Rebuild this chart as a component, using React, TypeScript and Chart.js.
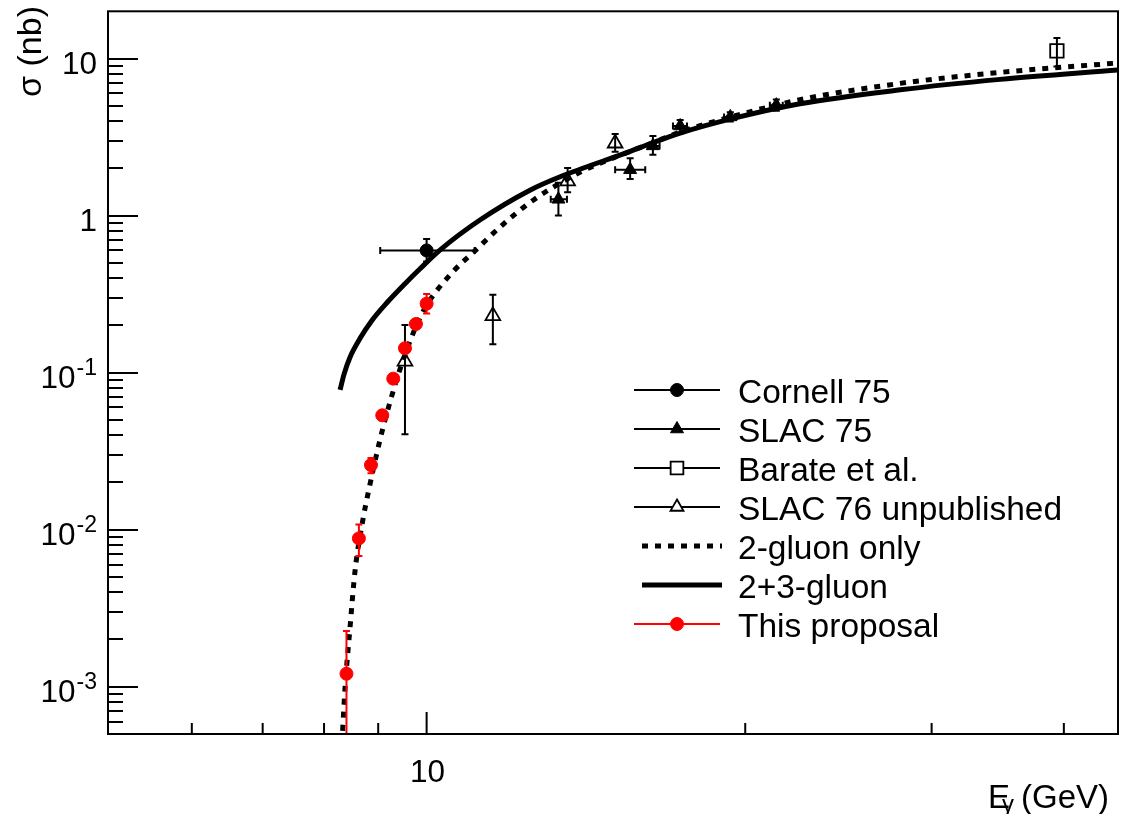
import React, { useEffect, useRef } from "react";
import { Chart, registerables } from "chart.js";

Chart.register(...registerables);

// ---------------- data ----------------
const xMin = 5;
const xMax = 45;
const yMin = 5e-4;
const yMax = 20;

const cornellE = [10.0];
const cornellSigma = [0.6];
const cornellELow = [9.04];
const cornellEHigh = [11.1];
const cornellSigmaLow = [0.51];
const cornellSigmaHigh = [0.71];

const slac75E = [13.32, 15.57, 16.36, 17.36, 19.36, 21.4];
const slac75Sigma = [1.27, 1.96, 2.78, 3.72, 4.25, 5.05];
const slac75ELow = [13.1, 15.07, 16.17, 17.09, 19.1, 21.1];
const slac75EHigh = [13.57, 16.09, 16.6, 17.62, 19.62, 21.7];
const slac75SigmaLow = [1.0, 1.71, 2.44, 3.34, 3.98, 4.65];
const slac75SigmaHigh = [1.62, 2.32, 3.21, 4.06, 4.55, 5.48];

const barateE = [39.4];
const barateSigma = [11.2];
const barateSigmaLow = [8.9];
const barateSigmaHigh = [13.5];

const slac76E = [9.54, 11.55, 13.59, 15.07];
const slac76Sigma = [0.118, 0.23, 1.66, 2.89];
const slac76SigmaLow = [0.0406, 0.1515, 1.41, 2.55];
const slac76SigmaHigh = [0.201, 0.313, 2.01, 3.31];

const proposalE = [8.4, 8.63, 8.86, 9.08, 9.3, 9.54, 9.77, 10.0];
const proposalSigma = [0.00121, 0.0088, 0.0258, 0.0535, 0.0916, 0.143, 0.204, 0.275];
const proposalSigmaLow = [0.0001, 0.0068, 0.0229, 0.0505, 0.0865, 0.135, 0.193, 0.238];
const proposalSigmaHigh = [0.00226, 0.0108, 0.0286, 0.0567, 0.097, 0.151, 0.215, 0.317];

const twoGluonE = [8.293, 8.374, 8.465, 8.558, 8.707, 8.804, 9.036, 9.235, 9.438, 9.772, 10.01, 10.59, 11.07, 11.79, 12.61, 13.96, 15.57, 16.33, 17.36, 19.35, 22.53, 28.02, 34.83, 45];
const twoGluonSigma = [0.000296, 0.000979, 0.002381, 0.005466, 0.01166, 0.01703, 0.03743, 0.06512, 0.1053, 0.1971, 0.2716, 0.4393, 0.5836, 0.8712, 1.254, 1.887, 2.563, 2.9, 3.404, 4.236, 5.468, 6.952, 8.162, 9.374];

const twoThreeGluonE = [8.284, 8.356, 8.465, 8.652, 8.878, 9.175, 9.541, 9.858, 10.3, 11.23, 12.52, 13.37, 15.57, 16.33, 17.36, 19.35, 22.53, 28.02, 34.83, 45];
const twoThreeGluonSigma = [0.0776, 0.0979, 0.1255, 0.1655, 0.2151, 0.2797, 0.3687, 0.4589, 0.6053, 0.9374, 1.451, 1.767, 2.563, 2.9, 3.356, 4.116, 5.157, 6.324, 7.371, 8.465];

const yTickValues = [1e-3, 1e-2, 1e-1, 1, 10];
const yTickBase = ["10", "10", "10", "1", "10"];
const yTickExp = ["-3", "-2", "-1", "", ""];
const xTickValues = [10];
const xTickLabels = ["10"];
const xMinorTicks = [6, 7, 8, 9, 20, 30, 40];

const legendLabels = [
  "Cornell 75",
  "SLAC 75",
  "Barate et al.",
  "SLAC 76 unpublished",
  "2-gluon only",
  "2+3-gluon",
  "This proposal",
];

const FONT = '"Liberation Sans", Arial, Helvetica, sans-serif';

// ---------------- helpers ----------------
function pts(xs: number[], ys: number[]) {
  return xs.map((x, i) => ({ x, y: ys[i] }));
}
function errs(yl: number[], yh: number[], xl?: number[], xh?: number[]) {
  return yl.map((_, i) => ({
    yl: yl[i],
    yh: yh[i],
    xl: xl ? xl[i] : null,
    xh: xh ? xh[i] : null,
  }));
}

function drawMarker(
  ctx: CanvasRenderingContext2D,
  style: string,
  x: number,
  y: number,
  r: number,
  fill: string | null,
  stroke: string,
  lw: number
) {
  ctx.beginPath();
  if (style === "circle") {
    ctx.arc(x, y, r, 0, Math.PI * 2);
  } else if (style === "triangle") {
    ctx.moveTo(x, y - r);
    ctx.lineTo(x + r * 0.866, y + r / 2);
    ctx.lineTo(x - r * 0.866, y + r / 2);
    ctx.closePath();
  } else if (style === "rect") {
    const s = r * Math.SQRT1_2;
    ctx.rect(x - s, y - s, 2 * s, 2 * s);
  }
  if (fill) {
    ctx.fillStyle = fill;
    ctx.fill();
  }
  ctx.lineWidth = lw;
  ctx.strokeStyle = stroke;
  ctx.stroke();
}

function seg(ctx: CanvasRenderingContext2D, x1: number, y1: number, x2: number, y2: number) {
  ctx.beginPath();
  ctx.moveTo(x1, y1);
  ctx.lineTo(x2, y2);
  ctx.stroke();
}

// ---------------- plugins ----------------
const errorBarPlugin = {
  id: "errorBars",
  afterDatasetDraw(chart: any, args: any) {
    const ds: any = chart.data.datasets[args.index];
    if (!ds.errorBars) return;
    const { ctx, chartArea: a } = chart;
    const xs = chart.scales.x;
    const ys = chart.scales.y;
    ctx.save();
    ctx.beginPath();
    ctx.rect(a.left, a.top, a.right - a.left, a.bottom - a.top);
    ctx.clip();
    ctx.strokeStyle = ds.errorColor;
    ctx.lineWidth = 2;
    const cap = 3.5;
    ds.errorBars.forEach((e: any, i: number) => {
      const p = ds.data[i];
      const px = xs.getPixelForValue(p.x);
      const py = ys.getPixelForValue(p.y);
      if (e.yl != null) {
        const y1 = ys.getPixelForValue(e.yl);
        const y2 = ys.getPixelForValue(e.yh);
        seg(ctx, px, y1, px, y2);
        seg(ctx, px - cap, y1, px + cap, y1);
        seg(ctx, px - cap, y2, px + cap, y2);
      }
      if (e.xl != null) {
        const x1 = xs.getPixelForValue(e.xl);
        const x2 = xs.getPixelForValue(e.xh);
        seg(ctx, x1, py, x2, py);
        seg(ctx, x1, py - cap, x1, py + cap);
        seg(ctx, x2, py - cap, x2, py + cap);
      }
    });
    ctx.restore();
  },
};

const axesPlugin = {
  id: "rootAxes",
  afterDatasetsDraw(chart: any) {
    const { ctx, chartArea: a } = chart;
    const xs = chart.scales.x;
    const ys = chart.scales.y;
    ctx.save();
    ctx.strokeStyle = "#000";
    ctx.lineWidth = 2;
    ctx.strokeRect(a.left, a.top, a.right - a.left, a.bottom - a.top);

    // y ticks
    for (let k = -4; k <= 1; k++) {
      for (let m = 1; m <= 9; m++) {
        const v = m * Math.pow(10, k);
        if (v <= yMin * 1.0001 || v >= yMax * 0.9999) continue;
        const py = Math.round(ys.getPixelForValue(v));
        const len = m === 1 ? 30 : 15;
        seg(ctx, a.left, py, a.left + len, py);
      }
    }
    // x ticks
    xMinorTicks.forEach((v) => {
      const px = xs.getPixelForValue(v);
      seg(ctx, px, a.bottom, px, a.bottom - 11);
    });
    xTickValues.forEach((v) => {
      const px = xs.getPixelForValue(v);
      seg(ctx, px, a.bottom, px, a.bottom - 22);
    });

    // y tick labels
    ctx.fillStyle = "#000";
    ctx.textBaseline = "alphabetic";
    const baseFont = `31.5px ${FONT}`;
    const supFont = `23px ${FONT}`;
    yTickValues.forEach((v, i) => {
      const py = ys.getPixelForValue(v);
      const right = 97;
      const base = yTickBase[i];
      const exp = yTickExp[i];
      ctx.font = supFont;
      const we = exp ? ctx.measureText(exp).width : 0;
      ctx.font = baseFont;
      const wb = ctx.measureText(base).width;
      ctx.textAlign = "left";
      const bx = right - we - (exp ? 1 : 0) - wb;
      ctx.fillText(base, bx, py + 15);
      if (exp) {
        ctx.font = supFont;
        ctx.fillText(exp, right - we, py + 2);
      }
    });

    // x tick labels
    ctx.font = baseFont;
    ctx.textAlign = "center";
    xTickValues.forEach((v, i) => {
      const px = xs.getPixelForValue(v);
      ctx.fillText(xTickLabels[i], px + 1, 782);
    });

    // x title: E_gamma (GeV)
    ctx.textAlign = "left";
    ctx.font = `33px ${FONT}`;
    ctx.fillText("E", 988, 808);
    ctx.font = `24px ${FONT}`;
    ctx.fillText("\u03b3", 1002, 812);
    ctx.font = `33px ${FONT}`;
    ctx.fillText("(GeV)", 1021, 808);

    // y title
    ctx.save();
    ctx.translate(41, 6);
    ctx.rotate(-Math.PI / 2);
    ctx.font = `34px ${FONT}`;
    ctx.textAlign = "right";
    ctx.fillText("\u03c3 (nb)", 0, 0);
    ctx.restore();

    ctx.restore();
  },
};

const legendPlugin = {
  id: "rootLegend",
  afterDraw(chart: any) {
    const { ctx } = chart;
    const x0 = 634;
    const x1 = 720;
    const xm = 677;
    const xt = 738;
    const y0 = 390;
    const dy = 39;
    ctx.save();
    const order = [0, 1, 2, 3, 4, 5, 6];
    order.forEach((di, row) => {
      const ds: any = chart.data.datasets[di];
      const y = y0 + row * dy;
      ctx.lineCap = "butt";
      if (ds.legendKind === "marker") {
        ctx.strokeStyle = ds.errorColor;
        ctx.lineWidth = 2;
        ctx.setLineDash([]);
        seg(ctx, x0, y, x1, y);
        const filled = ds.pointBackgroundColor !== "rgba(0,0,0,0)";
        drawMarker(
          ctx,
          ds.pointStyle,
          xm,
          y,
          ds.pointStyle === "rect" ? 9 : ds.pointStyle === "triangle" ? 7.5 : 6.5,
          filled ? ds.pointBackgroundColor : "#fff",
          ds.pointBorderColor,
          ds.pointBorderWidth
        );
      } else {
        ctx.strokeStyle = ds.borderColor;
        ctx.lineWidth = ds.borderWidth;
        ctx.setLineDash(ds.borderDash || []);
        seg(ctx, x0 + 8, y, x1 + 2, y);
        ctx.setLineDash([]);
      }
      ctx.fillStyle = "#000";
      ctx.font = `33.5px ${FONT}`;
      ctx.textAlign = "left";
      ctx.textBaseline = "alphabetic";
      ctx.fillText(legendLabels[row], xt, y + 13);
    });
    ctx.restore();
  },
};

// ---------------- component ----------------
export default function App() {
  const ref = useRef<HTMLCanvasElement | null>(null);

  useEffect(() => {
    document.body.style.margin = "0";
    const canvas = ref.current;
    if (!canvas) return;

    const datasets: any[] = [
      {
        label: legendLabels[0],
        data: pts(cornellE, cornellSigma),
        errorBars: errs(cornellSigmaLow, cornellSigmaHigh, cornellELow, cornellEHigh),
        errorColor: "#000",
        legendKind: "marker",
        showLine: false,
        pointStyle: "circle",
        pointRadius: 6.5,
        pointBackgroundColor: "#000",
        pointBorderColor: "#000",
        pointBorderWidth: 1,
        order: 2,
      },
      {
        label: legendLabels[1],
        data: pts(slac75E, slac75Sigma),
        errorBars: errs(slac75SigmaLow, slac75SigmaHigh, slac75ELow, slac75EHigh),
        errorColor: "#000",
        legendKind: "marker",
        showLine: false,
        pointStyle: "triangle",
        pointRadius: 7.5,
        pointBackgroundColor: "#000",
        pointBorderColor: "#000",
        pointBorderWidth: 1,
        order: 2,
      },
      {
        label: legendLabels[2],
        data: pts(barateE, barateSigma),
        errorBars: errs(barateSigmaLow, barateSigmaHigh),
        errorColor: "#000",
        legendKind: "marker",
        showLine: false,
        pointStyle: "rect",
        pointRadius: 9.5,
        pointBackgroundColor: "rgba(0,0,0,0)",
        pointBorderColor: "#000",
        pointBorderWidth: 1.8,
        order: 2,
      },
      {
        label: legendLabels[3],
        data: pts(slac76E, slac76Sigma),
        errorBars: errs(slac76SigmaLow, slac76SigmaHigh),
        errorColor: "#000",
        legendKind: "marker",
        showLine: false,
        pointStyle: "triangle",
        pointRadius: 8.5,
        pointBackgroundColor: "rgba(0,0,0,0)",
        pointBorderColor: "#000",
        pointBorderWidth: 1.8,
        order: 2,
      },
      {
        label: legendLabels[4],
        data: pts(twoGluonE, twoGluonSigma),
        legendKind: "line",
        showLine: true,
        borderColor: "#000",
        borderWidth: 5,
        borderDash: [6, 7],
        pointRadius: 0,
        cubicInterpolationMode: "monotone",
        clip: 0,
        order: 5,
      },
      {
        label: legendLabels[5],
        data: pts(twoThreeGluonE, twoThreeGluonSigma),
        legendKind: "line",
        showLine: true,
        borderColor: "#000",
        borderWidth: 5,
        pointRadius: 0,
        cubicInterpolationMode: "monotone",
        clip: 0,
        order: 4,
      },
      {
        label: legendLabels[6],
        data: pts(proposalE, proposalSigma),
        errorBars: errs(proposalSigmaLow, proposalSigmaHigh),
        errorColor: "#ff0000",
        legendKind: "marker",
        showLine: false,
        pointStyle: "circle",
        pointRadius: 6.5,
        pointBackgroundColor: "#ff0000",
        pointBorderColor: "#ff0000",
        pointBorderWidth: 1,
        order: 1,
      },
    ];

    const chart = new Chart(canvas, {
      type: "scatter",
      data: { datasets },
      options: {
        animation: false,
        responsive: false,
        devicePixelRatio: 1,
        events: [],
        layout: { padding: { left: 108, right: 13, top: 7, bottom: 80 } },
        plugins: {
          legend: { display: false },
          tooltip: { enabled: false },
        },
        scales: {
          x: { type: "logarithmic", min: xMin, max: xMax, display: false },
          y: { type: "logarithmic", min: yMin, max: yMax, display: false },
        },
      } as any,
      plugins: [errorBarPlugin, axesPlugin, legendPlugin],
    });

    return () => chart.destroy();
  }, []);

  return (
    <div style={{ width: 1131, height: 814, background: "#fff" }}>
      <canvas ref={ref} width={1131} height={814} style={{ display: "block", width: 1131, height: 814 }} />
    </div>
  );
}
